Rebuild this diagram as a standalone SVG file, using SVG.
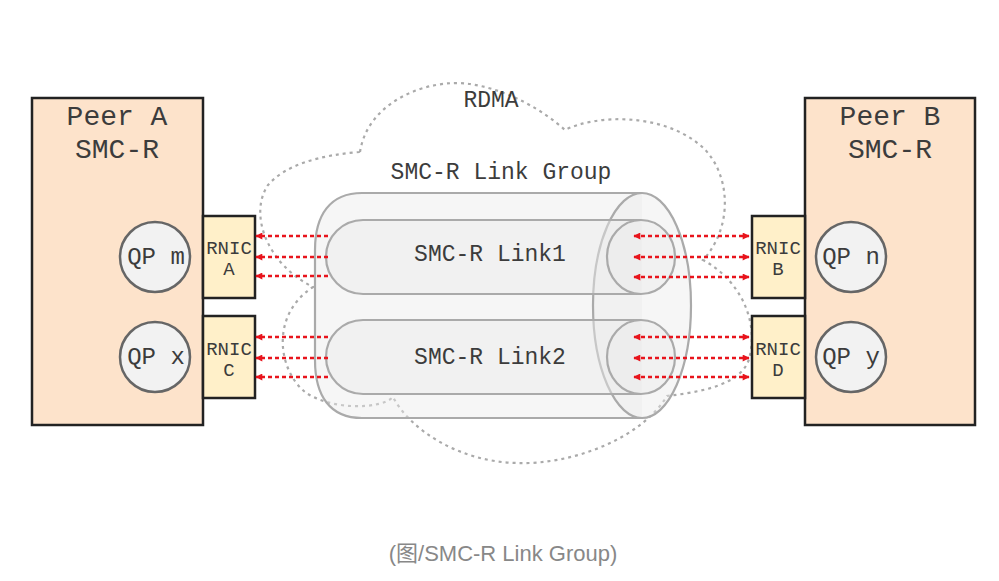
<svg xmlns="http://www.w3.org/2000/svg" width="999" height="581" viewBox="0 0 999 581">
<defs>
<style>
.mono{font-family:"Liberation Mono","DejaVu Sans Mono",monospace;fill:#3c3c3c;text-anchor:middle}
.peer{fill:#fde3cb;stroke:#222;stroke-width:2.5}
.rnic{fill:#fff0c9;stroke:#222;stroke-width:2.5}
.qp{fill:#f2f2f2;stroke:#666;stroke-width:2.5}
.cyl{fill:#ececec;fill-opacity:0.45;stroke:#aaa;stroke-width:2.2}
.cloud{fill:none;stroke:#aaa;stroke-width:2.2;stroke-dasharray:3 4}
.flow{stroke:#e8141c;stroke-width:2.6;stroke-dasharray:4 3;fill:none}
</style>
<marker id="ah" viewBox="0 0 10 10" refX="9" refY="5" markerWidth="9" markerHeight="7" markerUnits="userSpaceOnUse" orient="auto-start-reverse">
<path d="M0,0 L10,5 L0,10 z" fill="#e8141c"/>
</marker>
</defs>
<rect width="999" height="581" fill="#fff"/>

<g id="rdma-cloud">
<path class="cloud" d="M360,152 C368,100 430,78 470,84 C510,90 545,112 565,130 C595,115 660,112 700,145 C730,170 735,225 703,260 C740,280 758,320 750,355 C745,385 700,392 667,396 C640,440 570,465 517,463 C460,462 410,430 393,397 C380,410 330,410 305,392 C278,370 270,315 313,287 C268,265 248,215 268,185 C285,165 320,155 360,152 Z"/>
<text class="mono" x="491" y="107" font-size="23">RDMA</text>
</g>

<g id="link-group">
<path class="cyl" d="M642,193 L362,193 C330,193 315,215 315,250 L315,360 C315,396 330,418 362,418 L642,418"/>
<ellipse class="cyl" cx="642" cy="305.5" rx="49" ry="112.5"/>
<text class="mono" x="501" y="179" font-size="23">SMC-R Link Group</text>
</g>

<g id="link1">
<path class="cyl" d="M641,220 L363,220 A37,37 0 0 0 363,294 L641,294"/>
<ellipse class="cyl" cx="641" cy="257" rx="34" ry="37"/>
<text class="mono" x="490" y="261" font-size="23">SMC-R Link1</text>
</g>

<g id="link2">
<path class="cyl" d="M641,320 L363,320 A37,37 0 0 0 363,394 L641,394"/>
<ellipse class="cyl" cx="641" cy="357" rx="34" ry="37"/>
<text class="mono" x="490" y="364" font-size="23">SMC-R Link2</text>
</g>

<g id="peer-a">
<rect class="peer" x="32" y="98" width="171" height="327"/>
<text class="mono" x="117" y="125" font-size="28">Peer A</text>
<text class="mono" x="117" y="158" font-size="28">SMC-R</text>
</g>
<g id="qp-m">
<circle class="qp" cx="155" cy="257" r="35"/>
<text class="mono" x="156" y="264" font-size="24">QP m</text>
</g>
<g id="qp-x">
<circle class="qp" cx="155" cy="357" r="35"/>
<text class="mono" x="156" y="364" font-size="24">QP x</text>
</g>
<g id="rnic-a">
<rect class="rnic" x="203" y="216" width="52" height="82"/>
<text class="mono" x="229" y="254" font-size="19">RNIC</text>
<text class="mono" x="229" y="275" font-size="19">A</text>
</g>
<g id="rnic-c">
<rect class="rnic" x="203" y="316" width="52" height="82"/>
<text class="mono" x="229" y="355" font-size="19">RNIC</text>
<text class="mono" x="229" y="376" font-size="19">C</text>
</g>

<g id="peer-b">
<rect class="peer" x="805" y="98" width="170" height="327"/>
<text class="mono" x="890" y="125" font-size="28">Peer B</text>
<text class="mono" x="890" y="158" font-size="28">SMC-R</text>
</g>
<g id="qp-n">
<circle class="qp" cx="851" cy="257" r="35"/>
<text class="mono" x="851" y="264" font-size="24">QP n</text>
</g>
<g id="qp-y">
<circle class="qp" cx="851" cy="357" r="35"/>
<text class="mono" x="851" y="364" font-size="24">QP y</text>
</g>
<g id="rnic-b">
<rect class="rnic" x="752" y="216" width="53" height="82"/>
<text class="mono" x="778" y="254" font-size="19">RNIC</text>
<text class="mono" x="778" y="275" font-size="19">B</text>
</g>
<g id="rnic-d">
<rect class="rnic" x="752" y="316" width="53" height="82"/>
<text class="mono" x="778" y="355" font-size="19">RNIC</text>
<text class="mono" x="778" y="376" font-size="19">D</text>
</g>

<g id="connectors">
<path class="flow" marker-end="url(#ah)" d="M328,236 L256,236"/>
<path class="flow" marker-end="url(#ah)" d="M328,257 L256,257"/>
<path class="flow" marker-end="url(#ah)" d="M328,276 L256,276"/>
<path class="flow" marker-end="url(#ah)" d="M328,337 L256,337"/>
<path class="flow" marker-end="url(#ah)" d="M328,358 L256,358"/>
<path class="flow" marker-end="url(#ah)" d="M328,377 L256,377"/>
<path class="flow" marker-start="url(#ah)" marker-end="url(#ah)" d="M634,236 L749,236"/>
<path class="flow" marker-start="url(#ah)" marker-end="url(#ah)" d="M634,257 L749,257"/>
<path class="flow" marker-start="url(#ah)" marker-end="url(#ah)" d="M634,277 L749,277"/>
<path class="flow" marker-start="url(#ah)" marker-end="url(#ah)" d="M634,337 L749,337"/>
<path class="flow" marker-start="url(#ah)" marker-end="url(#ah)" d="M634,358 L749,358"/>
<path class="flow" marker-start="url(#ah)" marker-end="url(#ah)" d="M634,377 L749,377"/>
</g>

<text x="503" y="561" font-family="'Liberation Sans','Noto Sans CJK SC',sans-serif" font-size="22" fill="#888" text-anchor="middle">(图/SMC-R Link Group)</text>
</svg>
